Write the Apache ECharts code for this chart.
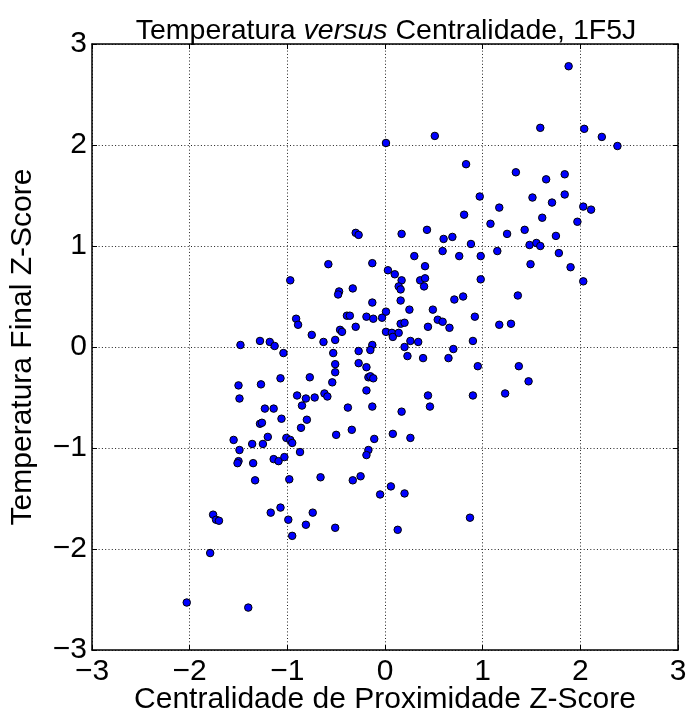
<!DOCTYPE html>
<html><head><meta charset="utf-8">
<script src="https://cdn.jsdelivr.net/npm/echarts@6/dist/echarts.min.js"></script>
<style>html,body{margin:0;padding:0;background:#fff}#c{width:689px;height:711px}</style>
</head><body><div id="c"></div>
<script>
// Centralidade de Proximidade Z-Score (x) and Temperatura Final Z-Score (y)
const proximityZ = [
 0.01,0.51,0.83,0.97,0.81,-0.30,-0.27,0.17,0.43,0.60,0.69,0.88,
 1.88,1.59,2.04,2.22,2.38,1.34,1.65,1.84,1.51,1.84,1.71,1.17,2.03,2.11,1.08,1.61,1.97,1.25,1.43,1.75,1.48,1.55,1.59,
 0.98,1.15,1.78,1.49,1.90,0.98,2.03,1.36,1.17,1.29,1.37,1.47,1.23,
 -0.97,-0.58,-0.13,0.30,0.59,0.76,0.03,0.10,0.41,0.17,0.36,0.41,0.14,0.16,0.40,-0.47,-0.48,-0.33,-0.13,0.16,0.71,0.80,
 0.25,0.49,0.92,-0.91,-0.89,-0.39,-0.36,-0.19,-0.12,-0.03,0.01,0.54,0.59,0.66,0.44,0.16,0.20,-0.30,-0.46,-0.44,-0.51,
 -0.75,-0.63,0.01,0.07,0.08,0.14,0.26,0.34,0.20,0.23,0.39,0.70,0.65,0.90,0.95,-0.13,-0.15,-0.27,-0.53,-0.51,-0.27,-0.19,
 -0.51,-0.77,-0.17,-0.15,-0.12,-0.54,-0.19,-1.04,-1.07,-0.90,-0.81,-0.72,-0.85,-0.62,-0.59,-0.38,-0.13,0.44,0.46,0.17,
 0.90,-0.80,-0.86,-0.34,-0.50,0.08,0.26,-0.11,-1.06,-1.01,-0.97,-0.95,-0.17,-0.19,
 -1.48,-1.28,-1.18,-1.13,-1.50,-1.27,-1.49,-1.23,-1.14,-1.28,-1.26,-1.55,-1.20,-1.36,-1.25,
 -1.49,-1.50,-1.51,-1.35,-1.14,-1.09,-1.03,-1.33,-1.17,-1.07,-1.76,-1.73,-1.70,-1.79,-2.03,-1.40,
 -0.87,-0.98,-0.66,-0.33,-0.25,-0.05,0.06,0.20,-0.99,-0.74,-0.81,-0.95,-0.51,0.13,0.87
];
const temperatureZ = [
 2.02,2.09,1.81,1.49,1.31,1.13,1.11,1.12,1.16,1.07,1.09,1.02,
 2.78,2.17,2.16,2.08,1.99,1.73,1.66,1.71,1.48,1.51,1.43,1.38,1.39,1.36,1.22,1.28,1.24,1.12,1.16,1.10,1.01,1.03,1.00,
 0.90,0.95,0.93,0.82,0.79,0.67,0.65,0.51,0.22,0.23,-0.19,-0.34,-0.46,
 0.66,0.82,0.83,0.90,0.95,0.90,0.76,0.72,0.80,0.66,0.66,0.68,0.60,0.57,0.60,0.55,0.52,0.58,0.44,0.46,0.47,0.50,
 0.37,0.37,0.30,0.28,0.22,0.31,0.31,0.30,0.28,0.29,0.35,0.27,0.25,0.19,0.20,0.23,0.24,0.20,0.17,0.15,0.07,
 0.12,0.05,0.15,0.14,0.10,0.14,0.06,0.05,0.00,-0.09,-0.11,-0.02,-0.11,0.06,-0.19,0.02,-0.03,-0.04,-0.06,-0.17,-0.16,-0.20,
 -0.25,-0.30,-0.30,-0.29,-0.31,-0.35,-0.43,-0.06,-0.31,-0.48,-0.51,-0.50,-0.58,-0.46,-0.49,-0.60,-0.59,-0.48,-0.59,-0.64,
 -0.48,-0.72,-0.80,-0.82,-0.87,-0.86,-0.90,-0.91,-0.71,-0.90,-0.92,-0.95,-1.02,-1.07,
 0.02,0.06,0.05,0.01,-0.38,-0.37,-0.51,-0.61,-0.61,-0.76,-0.75,-0.92,-0.89,-0.96,-0.96,
 -1.02,-1.13,-1.15,-1.15,-1.11,-1.13,-1.09,-1.32,-1.64,-1.59,-1.66,-1.71,-1.72,-2.04,-2.53,-2.58,
 -1.04,-1.31,-1.29,-1.32,-1.28,-1.46,-1.38,-1.45,-1.71,-1.64,-1.76,-1.87,-1.79,-1.81,-1.69
];
const axisMin = -3, axisMax = 3, axisStep = 1;
const titleMain = 'Temperatura ', titleItalic = 'versus', titleEnd = ' Centralidade, 1F5J';
const xName = 'Centralidade de Proximidade Z-Score';
const yName = 'Temperatura Final Z-Score';

const points = proximityZ.map((v, i) => [v, temperatureZ[i]]);
const FONT = 'Liberation Sans';
const fmt = v => String(v).replace('-', '\u2212');
const gridLine = {show: true, lineStyle: {color: '#222', width: 1, type: [1, 2.3]}};
const tick = {show: true, inside: true, length: 5, lineStyle: {color: '#000', width: 1}};
const line = {show: true, onZero: false, lineStyle: {color: '#000', width: 1.5}};
const label = {fontFamily: FONT, fontSize: 30, color: '#000', formatter: fmt};

const chart = echarts.init(document.getElementById('c'), null, {renderer: 'canvas'});
chart.setOption({
  animation: false,
  backgroundColor: '#fff',
  title: {
    text: '{n|' + titleMain + '}{i|' + titleItalic + '}{n|' + titleEnd + '}',
    left: 381, top: 12, textAlign: 'center',
    textStyle: {rich: {
      n: {fontFamily: FONT, fontSize: 28.5, color: '#000', fontWeight: 'normal'},
      i: {fontFamily: FONT, fontSize: 28.5, color: '#000', fontStyle: 'italic', fontWeight: 'normal'}
    }}
  },
  grid: {left: 92, right: 11, top: 44, bottom: 61, containLabel: false, outerBoundsMode: 'none'},
  xAxis: [
    {type: 'value', min: axisMin, max: axisMax, interval: axisStep, position: 'bottom',
     name: xName, nameLocation: 'middle', nameGap: 35, nameMoveOverlap: false,
     nameTextStyle: {fontFamily: FONT, fontSize: 30, color: '#000'},
     axisLine: line, axisTick: tick, splitLine: gridLine,
     axisLabel: Object.assign({margin: 7}, label)},
    {type: 'value', min: axisMin, max: axisMax, interval: axisStep, position: 'top',
     axisLine: line, axisTick: tick, splitLine: {show: false}, axisLabel: {show: false}}
  ],
  yAxis: [
    {type: 'value', min: axisMin, max: axisMax, interval: axisStep, position: 'left',
     name: yName, nameLocation: 'middle', nameGap: 54, nameMoveOverlap: false,
     nameTextStyle: {fontFamily: FONT, fontSize: 30, color: '#000'},
     axisLine: line, axisTick: tick, splitLine: gridLine,
     axisLabel: Object.assign({margin: 5}, label)},
    {type: 'value', min: axisMin, max: axisMax, interval: axisStep, position: 'right',
     axisLine: line, axisTick: tick, splitLine: {show: false}, axisLabel: {show: false}}
  ],
  series: [{
    type: 'scatter', data: points, symbol: 'circle', symbolSize: 7.5,
    itemStyle: {color: '#0000ff', borderColor: '#000', borderWidth: 1, opacity: 1}
  }]
});
</script></body></html>
